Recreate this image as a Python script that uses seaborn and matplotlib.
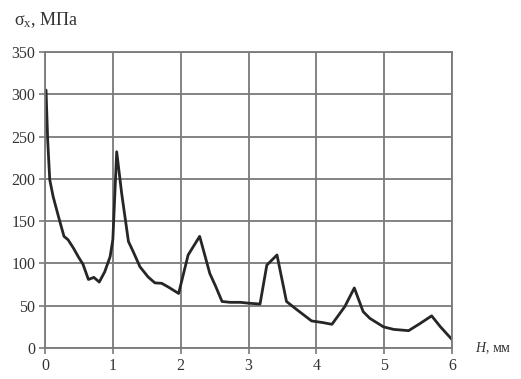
import matplotlib
matplotlib.use("Agg")
import matplotlib.pyplot as plt
import seaborn as sns
import pandas as pd

h_mm = [0.015, 0.04, 0.07, 0.12, 0.20, 0.28, 0.34, 0.42, 0.49, 0.56, 0.64, 0.72, 0.80, 0.88, 0.96,
        1.00, 1.057, 1.13, 1.23, 1.30, 1.40, 1.52, 1.62, 1.72, 1.82, 1.97, 2.11, 2.28, 2.43,
        2.51, 2.61, 2.73, 2.88, 3.00, 3.17, 3.27, 3.42, 3.56, 3.71, 3.93, 4.10, 4.23, 4.42,
        4.56, 4.69, 4.79, 4.99, 5.14, 5.36, 5.53, 5.70, 5.83, 6.00]
sigma_x = [305, 245, 199, 179, 155, 132, 128, 118, 108, 99, 81, 83.5, 78, 90, 108,
           128, 232, 183, 126, 114, 96, 84, 77, 76.5, 72, 64.5, 110, 132, 88,
           74, 55, 54, 54, 53, 52, 98, 110, 55, 45.5, 32, 30, 28, 49,
           71, 43, 35, 25, 22, 20.5, 29, 38, 25, 10]
x_ticks = [0, 1, 2, 3, 4, 5, 6]
y_ticks = [0, 50, 100, 150, 200, 250, 300, 350]

df = pd.DataFrame({"H": h_mm, "sigma": sigma_x})

sns.set_theme(style="white")
plt.rcParams["font.family"] = ["Liberation Serif", "DejaVu Serif"]
plt.rcParams["mathtext.fontset"] = "custom"
plt.rcParams["mathtext.rm"] = "Liberation Serif"
plt.rcParams["mathtext.it"] = "Liberation Serif:italic"

fig = plt.figure(figsize=(5.21, 3.79), dpi=100)
ax = fig.add_axes([45 / 521, 31 / 379, 407 / 521, 296 / 379])

sns.lineplot(data=df, x="H", y="sigma", ax=ax, color="#262626", linewidth=2.0)

grid_c = "#7a7a7a"
ax.set_xlim(0, 6)
ax.set_ylim(0, 350)
ax.set_xticks(x_ticks)
ax.set_yticks(y_ticks)
ax.grid(True, color=grid_c, linewidth=1.3)
for s in ax.spines.values():
    s.set_color(grid_c)
    s.set_linewidth(1.3)
ax.tick_params(axis="both", colors=grid_c, length=4, width=1.2, direction="out",
               labelsize=11.5, labelcolor="#333333", left=True, bottom=True, pad=3)
ax.set_xlabel("")
ax.set_ylabel("")

fig.text(14 / 521, 1 - 20 / 379, "σ$_{\\rm x}$, МПа", fontsize=13, color="#333333",
         ha="left", va="center")
fig.text(475 / 521, 1 - 348 / 379, "$\\mathit{H}$, мм", fontsize=10, color="#333333",
         ha="left", va="center")

fig.savefig("out.png", dpi=100)
